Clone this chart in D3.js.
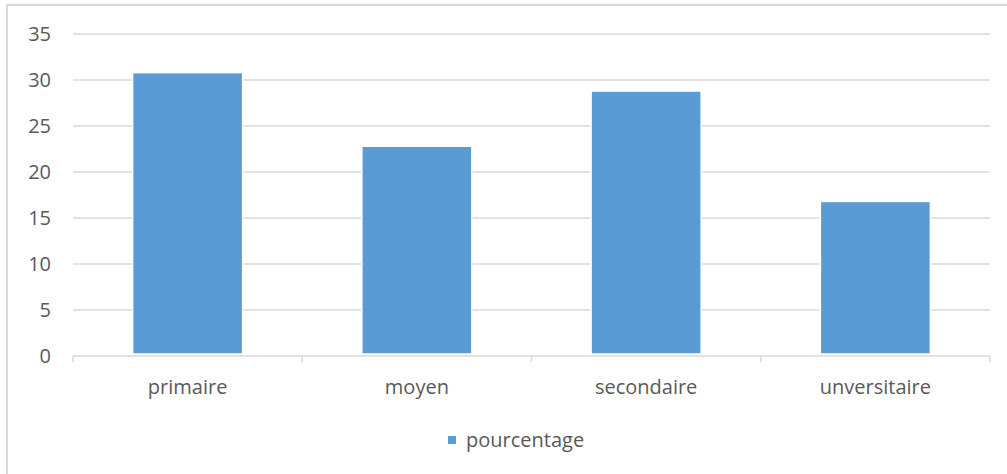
<!DOCTYPE html>
<html>
<head>
<meta charset="utf-8">
<script src="https://cdn.jsdelivr.net/npm/d3@7"></script>
<style>
  body { margin: 0; background: #fff; }
  svg text { font-family: "Open Sans", sans-serif; fill: #595959; }
</style>
</head>
<body>
<div id="chart"></div>
<script>
// data
var categories = ["primaire", "moyen", "secondaire", "unversitaire"];
var values = [30.8, 22.8, 28.8, 16.8];
var y_ticks = [0, 5, 10, 15, 20, 25, 30, 35];
var series_name = "pourcentage";

var width = 1007, height = 474;
var plot_left = 73, plot_right = 990, plot_top = 34, plot_bottom = 356;
var bar_color = "#5b9bd5", grid_color = "#d9d9d9";
var font_size = "20px";

var svg = d3.select("#chart")
    .append("svg")
    .attr("width", width)
    .attr("height", height);

// chart area border (only left and top edges fall inside the picture)
svg.append("rect")
    .attr("x", 7)
    .attr("y", 5)
    .attr("width", width + 20)
    .attr("height", height + 20)
    .attr("fill", "white")
    .attr("stroke", grid_color)
    .attr("stroke-width", 2);

var x = d3.scaleBand()
    .domain(categories)
    .range([plot_left, plot_right])
    .paddingInner(0.52)
    .paddingOuter(0.26);

var y = d3.scaleLinear()
    .domain([0, 35])
    .range([plot_bottom, plot_top]);

// gridlines
svg.append("g")
    .selectAll("line")
    .data(y_ticks.filter(function(d) { return d > 0; }))
    .enter().append("line")
    .attr("x1", plot_left)
    .attr("x2", plot_right)
    .attr("y1", function(d) { return y(d); })
    .attr("y2", function(d) { return y(d); })
    .attr("stroke", grid_color)
    .attr("stroke-width", 1.5);

// y labels
svg.append("g")
    .selectAll("text")
    .data(y_ticks)
    .enter().append("text")
    .attr("x", 51)
    .attr("y", function(d) { return y(d); })
    .attr("dy", "0.35em")
    .attr("text-anchor", "end")
    .style("font-size", font_size)
    .text(function(d) { return d; });

// bars
svg.append("g")
    .selectAll("rect")
    .data(values)
    .enter().append("rect")
    .attr("x", function(d, i) { return x(categories[i]); })
    .attr("y", function(d) { return y(d); })
    .attr("width", x.bandwidth())
    .attr("height", function(d) { return y(0) - y(d) - 2; })
    .attr("fill", bar_color)
    .attr("stroke", "white")
    .attr("stroke-width", 1.5);

// x axis line with ticks between categories
var tick_pos = d3.range(categories.length + 1).map(function(i) { return plot_left + i * (plot_right - plot_left) / categories.length; });
svg.append("line")
    .attr("x1", plot_left)
    .attr("x2", plot_right)
    .attr("y1", plot_bottom)
    .attr("y2", plot_bottom)
    .attr("stroke", grid_color)
    .attr("stroke-width", 1.5);
svg.append("g")
    .selectAll("line")
    .data(tick_pos)
    .enter().append("line")
    .attr("x1", function(d) { return d; })
    .attr("x2", function(d) { return d; })
    .attr("y1", plot_bottom)
    .attr("y2", plot_bottom + 6)
    .attr("stroke", grid_color)
    .attr("stroke-width", 1.5);

// category labels
svg.append("g")
    .selectAll("text")
    .data(categories)
    .enter().append("text")
    .attr("x", function(d) { return x(d) + x.bandwidth() / 2; })
    .attr("y", 394)
    .attr("text-anchor", "middle")
    .style("font-size", font_size)
    .text(function(d) { return d; });

// legend
var legend = svg.append("g")
    .attr("transform", "translate(448,436)");
legend.append("rect")
    .attr("width", 8)
    .attr("height", 8)
    .attr("fill", bar_color);
legend.append("text")
    .attr("x", 18)
    .attr("y", 4)
    .attr("dy", "0.35em")
    .style("font-size", font_size)
    .text(series_name);
</script>
</body>
</html>
